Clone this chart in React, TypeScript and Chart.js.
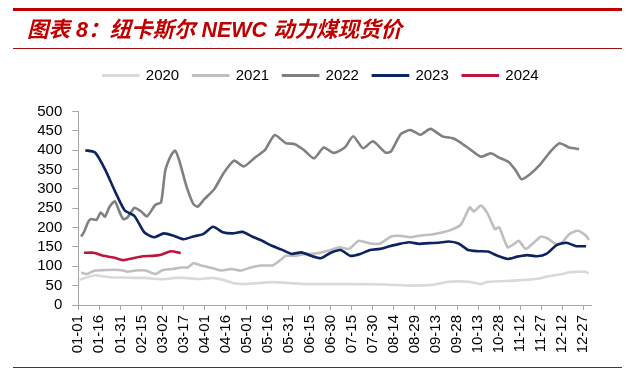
import React, { useEffect, useRef } from 'react';
import { Chart, registerables } from 'chart.js';

Chart.register(...registerables);

const tickLabels = ['01-01','01-16','01-31','02-15','03-02','03-17','04-01','04-16','05-01','05-16','05-31','06-15','06-30','07-15','07-30','08-14','08-29','09-13','09-28','10-13','10-28','11-12','11-27','12-12','12-27'];
const seriesNames = ['2020','2021','2022','2023','2024'];
const seriesColors = ['#D9D9D9','#BFBFBF','#808080','#0E2461','#C0143C'];

const dates2020 = ['01-02','01-07','01-13','01-19','01-26','02-02','02-11','02-18','02-26','03-04','03-11','03-18','03-28','04-07','04-16','04-22','04-28','05-07','05-19','05-31','06-12','06-28','07-15','08-08','08-27','09-10','09-22','10-06','10-15','10-20','11-08','11-23','12-02','12-12','12-16','12-28','12-31'];
const values2020 = [65,71,77,74,71,71,70,70,67,67,70,70,67,70,63,56,54,56,59,57,54,54,54,53,50,52,60,60,54,60,63,67,74,80,84,86,82];

const dates2021 = ['01-03','01-07','01-13','01-19','01-26','02-02','02-05','02-11','02-18','02-25','03-02','03-09','03-16','03-20','03-24','03-28','04-01','04-07','04-13','04-20','04-27','05-04','05-11','05-20','05-26','05-29','06-05','06-12','06-19','06-29','07-06','07-13','07-20','07-28','08-04','08-12','08-18','08-26','09-01','09-11','09-18','09-25','10-01','10-07','10-10','10-15','10-20','10-25','10-28','11-03','11-07','11-11','11-16','11-22','11-27','12-02','12-08','12-12','12-17','12-23','12-29','12-31'];
const values2021 = [84,80,89,90,91,89,86,89,89,80,90,93,97,97,108,104,100,95,89,93,89,97,102,103,119,127,127,132,133,141,149,145,166,159,159,177,179,175,179,183,188,196,209,252,242,257,235,196,201,149,156,166,145,162,177,171,156,162,183,192,179,168];

const dates2022 = ['01-03','01-05','01-08','01-10','01-14','01-17','01-20','01-23','01-27','01-30','02-02','02-05','02-10','02-15','02-19','02-25','03-01','03-04','03-08','03-11','03-14','03-19','03-24','03-27','04-01','04-08','04-15','04-22','04-29','05-07','05-14','05-21','05-29','06-04','06-11','06-18','06-25','07-02','07-10','07-16','07-23','07-30','08-08','08-12','08-19','08-26','09-02','09-09','09-18','09-25','09-30','10-07','10-15','10-22','10-28','11-04','11-09','11-13','11-19','11-26','12-03','12-10','12-17','12-24'];
const values2022 = [177,188,214,222,220,239,228,252,268,244,222,226,251,241,229,259,265,347,386,399,373,308,261,254,274,300,343,373,358,381,400,439,418,416,400,379,407,393,407,436,405,423,394,397,442,452,440,455,435,431,421,403,383,392,381,369,347,325,338,362,394,418,407,403];

const dates2023 = ['01-06','01-13','01-20','01-27','02-03','02-10','02-17','02-24','03-03','03-10','03-17','03-24','03-31','04-07','04-14','04-21','04-28','05-05','05-12','05-19','05-26','06-02','06-09','06-16','06-23','06-30','07-07','07-14','07-21','07-28','08-04','08-11','08-18','08-25','09-01','09-08','09-15','09-22','09-29','10-06','10-13','10-20','10-27','11-03','11-10','11-17','11-24','12-01','12-08','12-15','12-22','12-29'];
const values2023 = [400,394,351,295,245,230,188,175,185,179,170,177,183,202,188,185,189,177,166,153,143,132,136,127,121,135,142,127,132,142,145,152,158,162,158,160,161,164,159,142,139,138,127,119,125,129,126,133,155,161,152,152];

const dates2024 = ['01-05','01-12','01-19','01-26','02-02','02-09','02-16','02-23','03-01','03-08','03-15'];
const values2024 = [135,135,127,123,116,121,126,127,130,139,134];

const CUM_DAYS = [0,31,59,90,120,151,181,212,243,273,304,334];
const dayOfYear = (md: string) => {
  const [m, d] = md.split('-').map(Number);
  return CUM_DAYS[m - 1] + d - 1;
};
const tickDays = tickLabels.map(dayOfYear);
const toPoints = (dates: string[], values: number[]) => dates.map((d, i) => ({ x: dayOfYear(d), y: values[i] }));

const allDates = [dates2020, dates2021, dates2022, dates2023, dates2024];
const allValues = [values2020, values2021, values2022, values2023, values2024];

const FONT = '"Liberation Sans", Arial, sans-serif';

export default function App() {
  const ref = useRef<HTMLCanvasElement | null>(null);
  useEffect(() => {
    document.body.style.margin = '0';
    if (!ref.current) return;
    const chart = new Chart(ref.current, {
      type: 'line',
      data: {
        datasets: seriesNames.map((name, i) => ({
          label: name,
          data: toPoints(allDates[i], allValues[i]),
          borderColor: seriesColors[i],
          backgroundColor: seriesColors[i],
          borderWidth: 2.6,
          pointRadius: 0,
          tension: 0.2,
          fill: false,
          order: 4 - i,
        })),
      },
      options: {
        responsive: false,
        animation: false,
        events: [],
        layout: { padding: { left: 12, right: 0, top: 54, bottom: 9 } },
        plugins: {
          tooltip: { enabled: false },
          legend: {
            position: 'top',
            labels: {
              boxWidth: 35,
              boxHeight: 0.4,
              padding: 14,
              color: '#000',
              font: { family: FONT, size: 15 },
              sort: (a: any, b: any) => a.datasetIndex - b.datasetIndex,
            },
          },
        },
        scales: {
          x: {
            type: 'linear',
            position: 'bottom',
            min: 0,
            max: 366,
            afterBuildTicks: (axis: any) => {
              axis.ticks = tickDays.map((v) => ({ value: v }));
            },
            afterFit: (s: any) => { s.height = 60; },
            ticks: {
              autoSkip: false,
              minRotation: 90,
              maxRotation: 90,
              padding: 5,
              color: '#000',
              font: { family: FONT, size: 15 },
              callback: (v: any) => {
                const i = tickDays.indexOf(Number(v));
                return i >= 0 ? tickLabels[i] : '';
              },
            },
            grid: { display: true, drawOnChartArea: false, drawTicks: true, tickLength: 5, color: '#A6A6A6' },
            border: { display: true, color: '#A6A6A6', width: 1 },
          },
          xTop: {
            type: 'linear',
            position: 'top',
            display: true,
            grid: { display: false },
            border: { display: false },
            ticks: { display: false },
            afterFit: (s: any) => { s.height = 18.5; },
          },
          y: {
            type: 'linear',
            position: 'left',
            min: 0,
            max: 500,
            afterFit: (s: any) => { s.width = 66.3; },
            ticks: {
              stepSize: 50,
              autoSkip: false,
              padding: 10,
              color: '#000',
              font: { family: FONT, size: 15 },
            },
            grid: { display: true, drawOnChartArea: false, drawTicks: true, tickLength: 6, color: '#A6A6A6' },
            border: { display: true, color: '#A6A6A6', width: 1 },
          },
          yRight: {
            type: 'linear',
            position: 'right',
            display: true,
            grid: { display: false },
            border: { display: false },
            ticks: { display: false },
            afterFit: (s: any) => { s.width = 38.3; },
          },
        },
      },
    } as any);
    return () => chart.destroy();
  }, []);

  return (
    <div style={{ position: 'relative', width: 630, height: 374, overflow: 'hidden', background: '#fff' }}>
      <canvas ref={ref} width={630} height={374} style={{ position: 'absolute', left: 0, top: 0, width: 630, height: 374 }} />
      <div style={{ position: 'absolute', left: 13, top: 8, width: 609, height: 3, background: '#C00000' }} />
      <div
        style={{
          position: 'absolute',
          left: 27,
          top: 17,
          fontFamily: '"Liberation Sans", "Noto Sans CJK SC", sans-serif',
          fontStyle: 'italic',
          fontWeight: 'bold',
          fontSize: 21.5,
          lineHeight: '26px',
          color: '#C00000',
          whiteSpace: 'nowrap',
        }}
      >
        图表 8：纽卡斯尔 NEWC 动力煤现货价
      </div>
      <div style={{ position: 'absolute', left: 13, top: 48, width: 609, height: 1, background: '#A01010' }} />
      <div style={{ position: 'absolute', left: 13, top: 367, width: 609, height: 1, background: '#8B1A1A' }} />
    </div>
  );
}
